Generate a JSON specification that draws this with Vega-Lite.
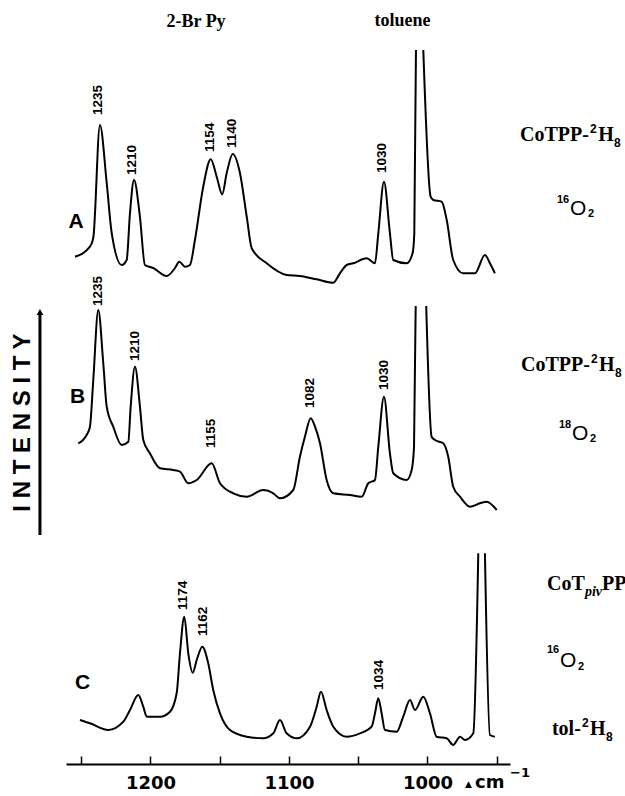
{
  "$schema": "https://vega.github.io/schema/vega-lite/v6.json",
  "width": 444,
  "height": 764,
  "autosize": {"type": "none"},
  "padding": {"left": 66, "top": 0, "right": 115, "bottom": 32},
  "background": "white",
  "config": {"view": {"stroke": null}},
  "datasets": {
    "spectra": [
      {"seg":"A1","wn":1254.5,"v":507.3},{"seg":"A1","wn":1243.7,"v":517.3},{"seg":"A1","wn":1241.3,"v":526},{"seg":"A1","wn":1236.5,"v":639},{"seg":"A1","wn":1231.6,"v":581},{"seg":"A1","wn":1228.0,"v":531},{"seg":"A1","wn":1220.8,"v":499},{"seg":"A1","wn":1217.2,"v":504},{"seg":"A1","wn":1214.8,"v":551},{"seg":"A1","wn":1211.9,"v":584},{"seg":"A1","wn":1207.6,"v":547},{"seg":"A1","wn":1204.0,"v":499},{"seg":"A1","wn":1198.0,"v":496},{"seg":"A1","wn":1188.3,"v":488},{"seg":"A1","wn":1182.3,"v":496},{"seg":"A1","wn":1179.2,"v":502.3},{"seg":"A1","wn":1175.1,"v":497.3},{"seg":"A1","wn":1171.5,"v":499},{"seg":"A1","wn":1167.9,"v":524},{"seg":"A1","wn":1161.9,"v":577.3},{"seg":"A1","wn":1156.5,"v":604.7},{"seg":"A1","wn":1152.2,"v":587.3},{"seg":"A1","wn":1148.2,"v":569.7},{"seg":"A1","wn":1145.0,"v":590.7},{"seg":"A1","wn":1140.6,"v":610},{"seg":"A1","wn":1135.4,"v":591},{"seg":"A1","wn":1130.5,"v":547.3},{"seg":"A1","wn":1126.9,"v":515.7},{"seg":"A1","wn":1116.1,"v":500.7},{"seg":"A1","wn":1101.7,"v":489},{"seg":"A1","wn":1092.1,"v":488},{"seg":"A1","wn":1080.0,"v":484.7},{"seg":"A1","wn":1068.0,"v":481.3},{"seg":"A1","wn":1063.2,"v":490.7},{"seg":"A1","wn":1058.3,"v":499},{"seg":"A1","wn":1053.6,"v":500.7},{"seg":"A1","wn":1043.9,"v":505.7},{"seg":"A1","wn":1037.9,"v":500.7},{"seg":"A1","wn":1035.5,"v":530.7},{"seg":"A1","wn":1031.4,"v":582.3},{"seg":"A1","wn":1027.1,"v":530.7},{"seg":"A1","wn":1024.7,"v":504},{"seg":"A1","wn":1015.0,"v":500.7},{"seg":"A1","wn":1010.7,"v":511},{"seg":"A1","wn":1009.5,"v":530.7},{"seg":"A1","wn":1008.3,"v":714},
      {"seg":"A2","wn":1003.0,"v":714},{"seg":"A2","wn":997.7,"v":567.3},{"seg":"A2","wn":995.8,"v":564},{"seg":"A2","wn":989.7,"v":562.3},{"seg":"A2","wn":986.1,"v":544},{"seg":"A2","wn":981.4,"v":504},{"seg":"A2","wn":974.2,"v":490.7},{"seg":"A2","wn":965.7,"v":490.7},{"seg":"A2","wn":958.5,"v":509},{"seg":"A2","wn":954.9,"v":500.7},{"seg":"A2","wn":951.3,"v":490.7},
      {"seg":"B1","wn":1252.1,"v":320.7},{"seg":"B1","wn":1246.1,"v":329},{"seg":"B1","wn":1243.7,"v":337.3},{"seg":"B1","wn":1241.3,"v":384},{"seg":"B1","wn":1237.7,"v":454},{"seg":"B1","wn":1234.1,"v":401},{"seg":"B1","wn":1231.6,"v":357.3},{"seg":"B1","wn":1226.9,"v":337.3},{"seg":"B1","wn":1220.8,"v":319},{"seg":"B1","wn":1216.0,"v":322.3},{"seg":"B1","wn":1214.3,"v":357.3},{"seg":"B1","wn":1211.2,"v":397.3},{"seg":"B1","wn":1207.6,"v":357.3},{"seg":"B1","wn":1205.2,"v":324},{"seg":"B1","wn":1200.4,"v":310.7},{"seg":"B1","wn":1193.1,"v":295.7},{"seg":"B1","wn":1183.5,"v":294},{"seg":"B1","wn":1178.7,"v":292.3},{"seg":"B1","wn":1172.7,"v":280.7},{"seg":"B1","wn":1166.6,"v":284},{"seg":"B1","wn":1155.8,"v":300.7},{"seg":"B1","wn":1149.8,"v":280.7},{"seg":"B1","wn":1140.2,"v":270.7},{"seg":"B1","wn":1130.5,"v":267.3},{"seg":"B1","wn":1118.6,"v":274},{"seg":"B1","wn":1111.3,"v":270.7},{"seg":"B1","wn":1106.5,"v":265.7},{"seg":"B1","wn":1096.9,"v":274},{"seg":"B1","wn":1092.1,"v":307.3},{"seg":"B1","wn":1088.5,"v":327.3},{"seg":"B1","wn":1084.3,"v":345.7},{"seg":"B1","wn":1081.2,"v":337.3},{"seg":"B1","wn":1077.6,"v":320.7},{"seg":"B1","wn":1072.8,"v":284},{"seg":"B1","wn":1068.0,"v":270.7},{"seg":"B1","wn":1056.0,"v":269},{"seg":"B1","wn":1047.5,"v":267.3},{"seg":"B1","wn":1042.7,"v":280.7},{"seg":"B1","wn":1037.9,"v":284},{"seg":"B1","wn":1035.5,"v":317.3},{"seg":"B1","wn":1031.4,"v":367.3},{"seg":"B1","wn":1027.1,"v":310.7},{"seg":"B1","wn":1024.7,"v":290.7},{"seg":"B1","wn":1015.0,"v":284},{"seg":"B1","wn":1011.4,"v":294},{"seg":"B1","wn":1009.7,"v":317.3},{"seg":"B1","wn":1008.5,"v":458},
      {"seg":"B2","wn":1000.9,"v":458},{"seg":"B2","wn":997.0,"v":327.3},{"seg":"B2","wn":994.6,"v":324},{"seg":"B2","wn":988.6,"v":320.7},{"seg":"B2","wn":985.0,"v":307.3},{"seg":"B2","wn":981.4,"v":277.3},{"seg":"B2","wn":976.5,"v":267.3},{"seg":"B2","wn":969.3,"v":257.3},{"seg":"B2","wn":962.1,"v":260.7},{"seg":"B2","wn":957.3,"v":262.3},{"seg":"B2","wn":950.0,"v":254},
      {"seg":"C1","wn":1250.9,"v":44},{"seg":"C1","wn":1243.7,"v":40.7},{"seg":"C1","wn":1230.5,"v":34},{"seg":"C1","wn":1219.6,"v":42.3},{"seg":"C1","wn":1214.8,"v":54},{"seg":"C1","wn":1208.8,"v":69},{"seg":"C1","wn":1205.2,"v":57.3},{"seg":"C1","wn":1202.7,"v":47.3},{"seg":"C1","wn":1193.1,"v":47.3},{"seg":"C1","wn":1185.9,"v":52.3},{"seg":"C1","wn":1181.1,"v":70.7},{"seg":"C1","wn":1178.7,"v":110.7},{"seg":"C1","wn":1175.6,"v":147.3},{"seg":"C1","wn":1172.7,"v":110.7},{"seg":"C1","wn":1169.5,"v":91.3},{"seg":"C1","wn":1166.6,"v":104},{"seg":"C1","wn":1162.6,"v":117.3},{"seg":"C1","wn":1158.3,"v":100.7},{"seg":"C1","wn":1154.7,"v":74},{"seg":"C1","wn":1149.8,"v":50.7},{"seg":"C1","wn":1142.6,"v":34},{"seg":"C1","wn":1130.5,"v":27.3},{"seg":"C1","wn":1118.6,"v":25.7},{"seg":"C1","wn":1111.3,"v":30.7},{"seg":"C1","wn":1106.5,"v":44},{"seg":"C1","wn":1101.7,"v":30.7},{"seg":"C1","wn":1094.4,"v":25.7},{"seg":"C1","wn":1084.8,"v":37.3},{"seg":"C1","wn":1080.0,"v":57.3},{"seg":"C1","wn":1076.9,"v":72.3},{"seg":"C1","wn":1072.8,"v":54},{"seg":"C1","wn":1068.0,"v":37.3},{"seg":"C1","wn":1058.3,"v":27.3},{"seg":"C1","wn":1048.7,"v":30.7},{"seg":"C1","wn":1040.3,"v":37.3},{"seg":"C1","wn":1037.9,"v":50.7},{"seg":"C1","wn":1035.5,"v":65.7},{"seg":"C1","wn":1033.1,"v":50.7},{"seg":"C1","wn":1030.7,"v":34},{"seg":"C1","wn":1022.2,"v":32.3},{"seg":"C1","wn":1017.5,"v":47.3},{"seg":"C1","wn":1012.6,"v":64},{"seg":"C1","wn":1009.0,"v":54},{"seg":"C1","wn":1003.0,"v":67.3},{"seg":"C1","wn":998.2,"v":50.7},{"seg":"C1","wn":993.4,"v":27.3},{"seg":"C1","wn":986.1,"v":25.7},{"seg":"C1","wn":981.4,"v":19},{"seg":"C1","wn":976.5,"v":27.3},{"seg":"C1","wn":972.9,"v":24},{"seg":"C1","wn":966.9,"v":30.7},{"seg":"C1","wn":963.3,"v":210.7},
      {"seg":"C2","wn":958.5,"v":210.7},{"seg":"C2","wn":954.9,"v":29},{"seg":"C2","wn":951.3,"v":27.3}
    ],
    "peaks": [
      {"wn":1237.7,"v":649,"label":"1235"},{"wn":1213.4,"v":589,"label":"1210"},{"wn":1157.0,"v":612,"label":"1154"},{"wn":1141.2,"v":616,"label":"1140"},{"wn":1032.5,"v":591,"label":"1030"},
      {"wn":1237.7,"v":458,"label":"1235"},{"wn":1211.2,"v":403,"label":"1210"},{"wn":1156.3,"v":316,"label":"1155"},{"wn":1084.8,"v":356,"label":"1082"},{"wn":1031.6,"v":374,"label":"1030"},
      {"wn":1176.5,"v":154,"label":"1174"},{"wn":1162.1,"v":128,"label":"1162"},{"wn":1035.0,"v":74,"label":"1034"}
    ],
    "letters": [
      {"wn":1253.8,"v":542.5,"label":"A"},{"wn":1252.6,"v":367,"label":"B"},{"wn":1249.1,"v":81.5,"label":"C"}
    ],
    "topNotes": [
      {"wn":1167.1,"v":742,"label":"2-Br Py"},{"wn":1018.0,"v":743,"label":"toluene"}
    ],
    "serifMain": [
      {"wn":933.2,"v":623,"label":"CoTPP-"},{"wn":876.6,"v":623,"label":"H"},
      {"wn":932.5,"v":393,"label":"CoTPP-"},{"wn":876.2,"v":393,"label":"H"},
      {"wn":913.7,"v":174,"label":"CoT"},{"wn":874.0,"v":174,"label":"PP"},
      {"wn":910.1,"v":29,"label":"tol-"},{"wn":882.7,"v":29,"label":"H"}
    ],
    "serifSmall": [
      {"wn":882.7,"v":631,"label":"2"},{"wn":865.3,"v":617,"label":"8"},
      {"wn":881.9,"v":401,"label":"2"},{"wn":864.6,"v":387,"label":"8"},
      {"wn":888.4,"v":37,"label":"2"},{"wn":871.1,"v":23,"label":"8"}
    ],
    "pivSub": [{"wn":886.3,"v":168,"label":"piv"}],
    "oxyMain": [
      {"wn":897.1,"v":549,"label":"O"},{"wn":895.7,"v":324,"label":"O"},{"wn":904.3,"v":97,"label":"O"}
    ],
    "oxySmall": [
      {"wn":906.5,"v":561,"label":"16"},{"wn":884.1,"v":547,"label":"2"},
      {"wn":905.1,"v":336,"label":"18"},{"wn":882.7,"v":322,"label":"2"},
      {"wn":913.7,"v":111,"label":"16"},{"wn":891.3,"v":94,"label":"2"}
    ],
    "ylabel": [{"wn":1292.4,"v":341.5,"label":"I N T E N S I T Y"}],
    "arrow": [{"wn":1279.8,"v":229,"v2":450}],
    "arrowhead": [{"wn":1279.8,"v":452}],
    "unitMain": [{"wn":965.7,"v":-24,"label":"cm"}],
    "unitSup": [{"wn":940.4,"v":-13,"label":"−1"}],
    "unitDelta": [{"wn":970.4,"v":-20,"label":"▲"}]
  },
  "encoding": {
    "x": {"field":"wn","type":"quantitative","scale":{"domain":[1261,940.4],"nice":false,"zero":false},
      "axis":{"values":[1250,1200,1150,1100,1050,1000,950],"format":"d","labelExpr":"datum.value % 100 == 0 ? datum.label : ''","title":null,"grid":false,"tickSize":-8,"tickWidth":1.5,"tickColor":"black","domainColor":"black","domainWidth":2,"labelFont":"DejaVu Sans","labelFontWeight":"bold","labelFontSize":18,"labelColor":"black","labelPadding":32,"labelBaseline":"alphabetic","labelFlush":false,"labelOverlap":false}},
    "y": {"field":"v","type":"quantitative","scale":{"domain":[0,764],"nice":false,"zero":false},"axis":null}
  },
  "layer": [
    {"data":{"name":"spectra"},"mark":{"type":"line","color":"black","strokeWidth":2,"strokeJoin":"round","interpolate":"monotone"},"encoding":{"detail":{"field":"seg"}}},
    {"data":{"name":"peaks"},"mark":{"type":"text","angle":270,"align":"left","baseline":"middle","font":"Liberation Sans","fontWeight":"bold","fontSize":13.5,"color":"black"},"encoding":{"text":{"field":"label"}}},
    {"data":{"name":"letters"},"mark":{"type":"text","align":"center","baseline":"middle","font":"Liberation Sans","fontWeight":"bold","fontSize":21,"color":"black"},"encoding":{"text":{"field":"label"}}},
    {"data":{"name":"topNotes"},"mark":{"type":"text","align":"center","baseline":"middle","font":"Liberation Serif","fontWeight":"bold","fontSize":18,"color":"black"},"encoding":{"text":{"field":"label"}}},
    {"data":{"name":"serifMain"},"mark":{"type":"text","align":"left","baseline":"alphabetic","font":"Liberation Serif","fontWeight":"bold","fontSize":20,"color":"black"},"encoding":{"text":{"field":"label"}}},
    {"data":{"name":"serifSmall"},"mark":{"type":"text","align":"left","baseline":"alphabetic","font":"Liberation Sans","fontWeight":"bold","fontSize":12,"color":"black"},"encoding":{"text":{"field":"label"}}},
    {"data":{"name":"pivSub"},"mark":{"type":"text","align":"left","baseline":"alphabetic","font":"Liberation Serif","fontStyle":"italic","fontWeight":"bold","fontSize":14,"color":"black"},"encoding":{"text":{"field":"label"}}},
    {"data":{"name":"oxyMain"},"mark":{"type":"text","align":"left","baseline":"alphabetic","font":"Liberation Sans","fontSize":21,"color":"black"},"encoding":{"text":{"field":"label"}}},
    {"data":{"name":"oxySmall"},"mark":{"type":"text","align":"left","baseline":"alphabetic","font":"Liberation Sans","fontWeight":"bold","fontSize":11,"color":"black"},"encoding":{"text":{"field":"label"}}},
    {"data":{"name":"ylabel"},"mark":{"type":"text","angle":270,"align":"center","baseline":"middle","font":"Liberation Sans","fontWeight":"bold","fontSize":24,"color":"black"},"encoding":{"text":{"field":"label"}}},
    {"data":{"name":"arrow"},"mark":{"type":"rule","color":"black","strokeWidth":3},"encoding":{"y2":{"field":"v2"}}},
    {"data":{"name":"arrowhead"},"mark":{"type":"point","shape":"triangle-up","filled":true,"size":45,"color":"black","opacity":1},"encoding":{}},
    {"data":{"name":"unitMain"},"mark":{"type":"text","align":"left","baseline":"alphabetic","font":"DejaVu Sans","fontWeight":"bold","fontSize":18,"color":"black"},"encoding":{"text":{"field":"label"}}},
    {"data":{"name":"unitSup"},"mark":{"type":"text","align":"left","baseline":"alphabetic","font":"DejaVu Sans","fontWeight":"bold","fontSize":13,"color":"black"},"encoding":{"text":{"field":"label"}}},
    {"data":{"name":"unitDelta"},"mark":{"type":"text","align":"center","baseline":"middle","font":"DejaVu Sans","fontSize":9,"color":"black"},"encoding":{"text":{"field":"label"}}}
  ]
}
